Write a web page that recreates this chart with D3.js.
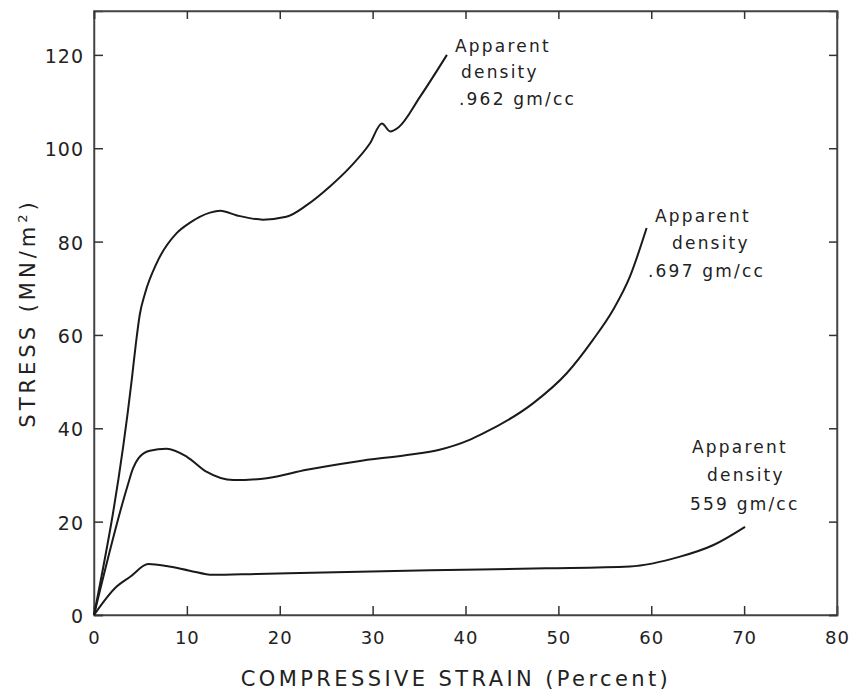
<!DOCTYPE html>
<html>
<head>
<meta charset="utf-8">
<script src="https://cdn.jsdelivr.net/npm/d3@7"></script>
<style>
  body { margin: 0; background: #fff; }
  text { font-family: "DejaVu Sans", sans-serif; fill: #222; }
</style>
</head>
<body>
<div id="plt"></div>
<script>
// data: compressive strain (%) vs stress (MN/m2)
var strainHigh = [0, 4.06, 4.5, 4.95, 5.49, 6.75, 8.9, 10.3, 12.5, 13.6, 15.4, 18.2, 20.7, 22.9, 25.4, 27.6, 29.7, 31.0, 31.9, 32.8, 35.1, 38.0];
var stressHigh = [0, 50.3, 58, 64.6, 68.9, 75.4, 81.8, 84, 86.2, 86.6, 85.6, 84.7, 85.3, 87.8, 91.8, 96, 101, 105.3, 103.6, 104.5, 111, 120];

var strainMid = [0, 3.6, 4.2, 4.8, 6.0, 7.8, 10.0, 12.1, 15.0, 18.6, 22.9, 28.3, 33.7, 37.2, 40.3, 41.9, 47.3, 50.9, 53.7, 55.9, 57.7, 59.5];
var stressMid = [0, 27.6, 31.4, 33.6, 35.2, 35.6, 33.9, 30.7, 28.9, 29.3, 31.1, 32.9, 34.3, 35.4, 37.4, 38.9, 45.4, 51.8, 58.9, 65.4, 72.5, 82.9];

var strainLow = [0, 2.44, 3.9, 5.85, 7.8, 10.3, 12.8, 17.5, 24.7, 36.2, 48.7, 57.7, 63.1, 66.7, 70.1];
var stressLow = [0, 6.1, 8.2, 10.9, 10.5, 9.5, 8.6, 8.8, 9.1, 9.6, 10.0, 10.4, 12.5, 15.0, 18.9];

var xTicks = [0, 10, 20, 30, 40, 50, 60, 70, 80];
var yTicks = [0, 20, 40, 60, 80, 100, 120];

var labelHigh = ["Apparent", "density", ".962 gm/cc"];
var labelMid = ["Apparent", "density", ".697 gm/cc"];
var labelLow = ["Apparent", "density", "559 gm/cc"];

// set the dimensions of the plot
var W = 851, H = 692;
var plotLeft = 94, plotRight = 837, plotTop = 11, plotBottom = 615;

var svg = d3.select("#plt")
            .append("svg")
            .attr("width", W)
            .attr("height", H);

var x = d3.scaleLinear().domain([0, 80]).range([plotLeft, plotRight]);
var y = d3.scaleLinear().domain([0, 129.4]).range([plotBottom, plotTop]);

// frame
svg.append("rect")
   .attr("x", plotLeft).attr("y", plotTop)
   .attr("width", plotRight - plotLeft).attr("height", plotBottom - plotTop)
   .attr("fill", "none")
   .attr("stroke", "#555")
   .attr("stroke-width", 1.5);

// axes with inward ticks
var gx = svg.append("g")
   .attr("transform", "translate(0," + plotBottom + ")")
   .call(d3.axisBottom(x).tickValues(xTicks).tickSize(-9).tickPadding(16).tickFormat(d3.format("d")));
var gy = svg.append("g")
   .attr("transform", "translate(" + plotLeft + ",0)")
   .call(d3.axisLeft(y).tickValues(yTicks).tickSize(-9).tickPadding(10).tickFormat(d3.format("d")));
svg.append("g")
   .attr("transform", "translate(0," + plotTop + ")")
   .call(d3.axisTop(x).tickValues(xTicks).tickSize(-8).tickFormat(""));
svg.append("g")
   .attr("transform", "translate(" + plotRight + ",0)")
   .call(d3.axisRight(y).tickValues(yTicks).tickSize(-8).tickFormat(""));

svg.selectAll(".domain").attr("stroke", "#444").attr("stroke-width", 1.5);
svg.selectAll(".tick line").attr("stroke", "#333").attr("stroke-width", 1.5);
svg.selectAll(".tick text").style("font-size", "18px").style("letter-spacing", "1px").attr("fill", "#222");
gy.selectAll(".tick text").attr("dy", "0.4em").style("font-size", "19px");

// curves
var line = d3.line()
   .x(function(d) { return x(d[0]); })
   .y(function(d) { return y(d[1]); })
   .curve(d3.curveMonotoneX);

[[strainHigh, stressHigh], [strainMid, stressMid], [strainLow, stressLow]].forEach(function(c) {
  svg.append("path")
     .datum(d3.zip(c[0], c[1]))
     .attr("d", line)
     .attr("fill", "none")
     .attr("stroke", "#1a1a1a")
     .attr("stroke-width", 2);
});

// annotations
function addLabel(lines, xs, ys) {
  lines.forEach(function(t, i) {
    svg.append("text")
       .attr("x", xs[i]).attr("y", ys[i])
       .style("font-size", "17px")
       .style("letter-spacing", "2.2px")
       .text(t);
  });
}
addLabel(labelHigh, [455, 461, 459], [52, 78, 105]);
addLabel(labelMid, [655, 672, 648], [222, 249, 277]);
addLabel(labelLow, [692, 707, 690], [453, 481, 510]);

// axis titles
svg.append("text")
   .attr("x", 456).attr("y", 686)
   .attr("text-anchor", "middle")
   .style("font-size", "21px")
   .style("letter-spacing", "3.4px")
   .text("COMPRESSIVE STRAIN (Percent)");

svg.append("text")
   .attr("transform", "translate(35,313)rotate(-90)")
   .attr("text-anchor", "middle")
   .style("font-size", "21px")
   .style("letter-spacing", "4px")
   .html("STRESS (MN/m<tspan dy='-8' font-size='13px'>2</tspan><tspan dy='8'>)</tspan>");
</script>
</body>
</html>
